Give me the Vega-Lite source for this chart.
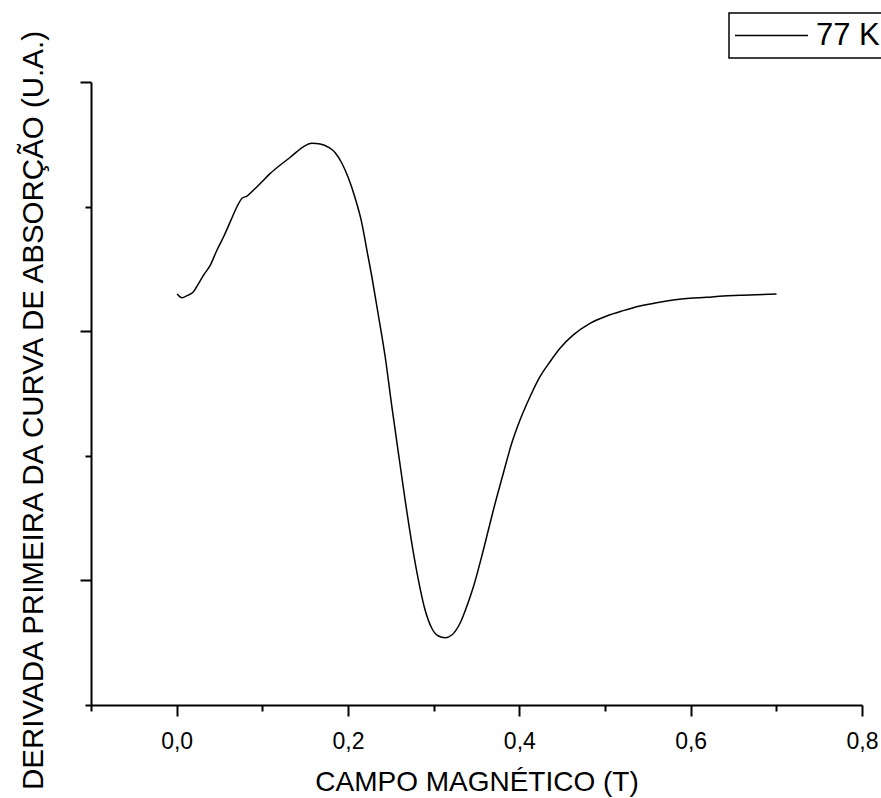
{
  "$schema": "https://vega.github.io/schema/vega-lite/v6.json",
  "width": 771,
  "height": 623,
  "autosize": {"type": "none"},
  "padding": {"left": 91, "top": 82, "right": 19, "bottom": 93},
  "background": "white",
  "config": {"view": {"stroke": null}, "font": "Liberation Sans"},
  "data": {
    "values": [
      {"campo": 0.0005, "sinal": 3.299, "serie": "77 K"},
      {"campo": 0.0063, "sinal": 3.269, "serie": "77 K"},
      {"campo": 0.0121, "sinal": 3.285, "serie": "77 K"},
      {"campo": 0.0191, "sinal": 3.312, "serie": "77 K"},
      {"campo": 0.0257, "sinal": 3.384, "serie": "77 K"},
      {"campo": 0.0315, "sinal": 3.451, "serie": "77 K"},
      {"campo": 0.0393, "sinal": 3.531, "serie": "77 K"},
      {"campo": 0.0471, "sinal": 3.652, "serie": "77 K"},
      {"campo": 0.0548, "sinal": 3.758, "serie": "77 K"},
      {"campo": 0.0626, "sinal": 3.879, "serie": "77 K"},
      {"campo": 0.0704, "sinal": 3.999, "serie": "77 K"},
      {"campo": 0.0763, "sinal": 4.067, "serie": "77 K"},
      {"campo": 0.0821, "sinal": 4.085, "serie": "77 K"},
      {"campo": 0.0898, "sinal": 4.133, "serie": "77 K"},
      {"campo": 0.0996, "sinal": 4.200, "serie": "77 K"},
      {"campo": 0.1093, "sinal": 4.267, "serie": "77 K"},
      {"campo": 0.1209, "sinal": 4.334, "serie": "77 K"},
      {"campo": 0.1326, "sinal": 4.396, "serie": "77 K"},
      {"campo": 0.1404, "sinal": 4.441, "serie": "77 K"},
      {"campo": 0.1481, "sinal": 4.481, "serie": "77 K"},
      {"campo": 0.1579, "sinal": 4.508, "serie": "77 K"},
      {"campo": 0.1676, "sinal": 4.502, "serie": "77 K"},
      {"campo": 0.1773, "sinal": 4.476, "serie": "77 K"},
      {"campo": 0.1851, "sinal": 4.433, "serie": "77 K"},
      {"campo": 0.1929, "sinal": 4.348, "serie": "77 K"},
      {"campo": 0.2006, "sinal": 4.227, "serie": "77 K"},
      {"campo": 0.2084, "sinal": 4.067, "serie": "77 K"},
      {"campo": 0.2162, "sinal": 3.866, "serie": "77 K"},
      {"campo": 0.2220, "sinal": 3.652, "serie": "77 K"},
      {"campo": 0.2279, "sinal": 3.435, "serie": "77 K"},
      {"campo": 0.2356, "sinal": 3.122, "serie": "77 K"},
      {"campo": 0.2434, "sinal": 2.795, "serie": "77 K"},
      {"campo": 0.2512, "sinal": 2.394, "serie": "77 K"},
      {"campo": 0.2589, "sinal": 2.020, "serie": "77 K"},
      {"campo": 0.2667, "sinal": 1.645, "serie": "77 K"},
      {"campo": 0.2745, "sinal": 1.298, "serie": "77 K"},
      {"campo": 0.2822, "sinal": 1.003, "serie": "77 K"},
      {"campo": 0.2900, "sinal": 0.762, "serie": "77 K"},
      {"campo": 0.2978, "sinal": 0.616, "serie": "77 K"},
      {"campo": 0.3055, "sinal": 0.554, "serie": "77 K"},
      {"campo": 0.3133, "sinal": 0.540, "serie": "77 K"},
      {"campo": 0.3212, "sinal": 0.562, "serie": "77 K"},
      {"campo": 0.3308, "sinal": 0.656, "serie": "77 K"},
      {"campo": 0.3405, "sinal": 0.827, "serie": "77 K"},
      {"campo": 0.3464, "sinal": 0.949, "serie": "77 K"},
      {"campo": 0.3580, "sinal": 1.244, "serie": "77 K"},
      {"campo": 0.3697, "sinal": 1.565, "serie": "77 K"},
      {"campo": 0.3813, "sinal": 1.860, "serie": "77 K"},
      {"campo": 0.3911, "sinal": 2.100, "serie": "77 K"},
      {"campo": 0.4008, "sinal": 2.287, "serie": "77 K"},
      {"campo": 0.4125, "sinal": 2.474, "serie": "77 K"},
      {"campo": 0.4241, "sinal": 2.635, "serie": "77 K"},
      {"campo": 0.4358, "sinal": 2.755, "serie": "77 K"},
      {"campo": 0.4475, "sinal": 2.863, "serie": "77 K"},
      {"campo": 0.4630, "sinal": 2.970, "serie": "77 K"},
      {"campo": 0.4825, "sinal": 3.063, "serie": "77 K"},
      {"campo": 0.5019, "sinal": 3.122, "serie": "77 K"},
      {"campo": 0.5213, "sinal": 3.165, "serie": "77 K"},
      {"campo": 0.5408, "sinal": 3.202, "serie": "77 K"},
      {"campo": 0.5602, "sinal": 3.229, "serie": "77 K"},
      {"campo": 0.5796, "sinal": 3.250, "serie": "77 K"},
      {"campo": 0.5991, "sinal": 3.264, "serie": "77 K"},
      {"campo": 0.6185, "sinal": 3.272, "serie": "77 K"},
      {"campo": 0.6379, "sinal": 3.283, "serie": "77 K"},
      {"campo": 0.6574, "sinal": 3.288, "serie": "77 K"},
      {"campo": 0.6768, "sinal": 3.293, "serie": "77 K"},
      {"campo": 0.7002, "sinal": 3.299, "serie": "77 K"}
    ]
  },
  "mark": {"type": "line", "strokeWidth": 1.5, "interpolate": "monotone"},
  "encoding": {
    "x": {
      "field": "campo",
      "type": "quantitative",
      "scale": {"domain": [-0.1, 0.8], "nice": false, "zero": false},
      "axis": {
        "values": [-0.1, 0, 0.1, 0.2, 0.3, 0.4, 0.5, 0.6, 0.7, 0.8],
        "title": "CAMPO MAGNÉTICO (T)",
        "grid": false,
        "domainColor": "black",
        "domainWidth": 2,
        "tickColor": "black",
        "tickWidth": 2,
        "tickSize": {"condition": {"test": "round(datum.value*10)%2==0", "value": 11}, "value": 6},
        "labelExpr": "round(datum.value*10)%2==0 ? replace(format(datum.value,'.1f'),'.',',') : ''",
        "labelFont": "Liberation Sans",
        "labelFontSize": 23,
        "labelColor": "black",
        "labelFlush": false,
        "labelBaseline": "alphabetic",
        "labelPadding": 32,
        "titleFont": "Liberation Sans",
        "titleFontSize": 28,
        "titleFontWeight": "normal",
        "titleColor": "black",
        "titleBaseline": "alphabetic",
        "titleY": 85
      }
    },
    "y": {
      "field": "sinal",
      "type": "quantitative",
      "scale": {"domain": [0, 5], "nice": false, "zero": false},
      "axis": {
        "values": [0, 1, 2, 3, 4, 5],
        "title": "DERIVADA PRIMEIRA DA CURVA DE ABSORÇÃO (U.A.)",
        "grid": false,
        "labels": false,
        "domainColor": "black",
        "domainWidth": 2,
        "tickColor": "black",
        "tickWidth": 2,
        "tickSize": {"condition": {"test": "datum.value%2==1", "value": 11}, "value": 6},
        "titleFont": "Liberation Sans",
        "titleFontSize": 29.5,
        "titleFontWeight": "normal",
        "titleColor": "black",
        "titleAngle": 270,
        "titleAlign": "center",
        "titleBaseline": "alphabetic",
        "titleX": -49,
        "titleY": 328
      }
    },
    "color": {
      "field": "serie",
      "type": "nominal",
      "scale": {"range": ["black"]},
      "legend": {
        "orient": "none",
        "legendX": 638,
        "legendY": -69,
        "title": null,
        "symbolType": "stroke",
        "symbolSize": 5329,
        "symbolStrokeWidth": 1.5,
        "clipHeight": 35,
        "padding": 5,
        "labelOffset": 7,
        "labelFont": "Liberation Sans",
        "labelFontSize": 31,
        "labelColor": "black",
        "strokeColor": "black",
        "encode": {"legend": {"update": {"strokeWidth": {"value": 1.5}}}}
      }
    }
  }
}
